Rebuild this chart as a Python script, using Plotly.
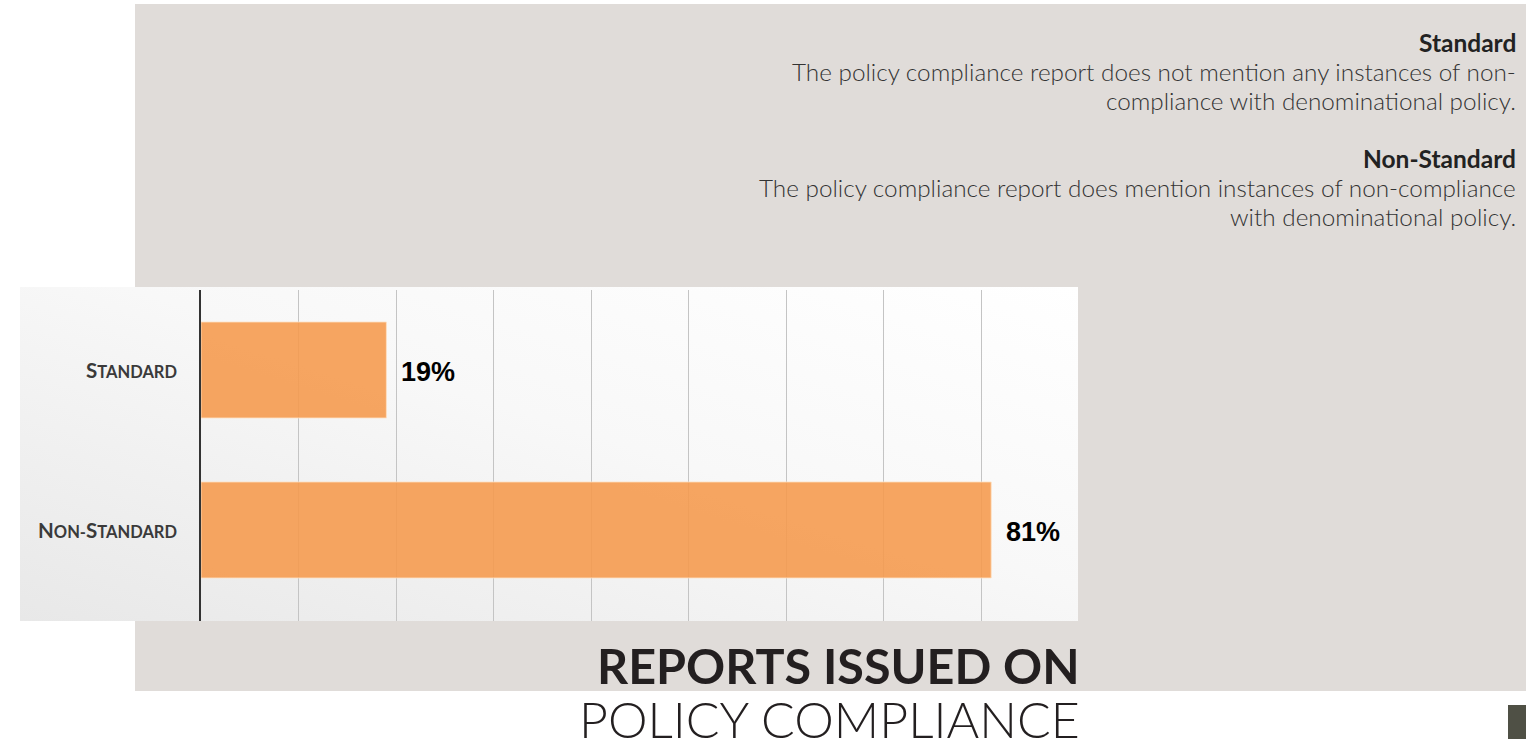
import base64
import plotly.graph_objects as go

# Share of policy compliance reports by outcome (percent)
categories = ["Standard", "Non-Standard"]
shares = [19, 81]
category_pos = [1, 0]

descriptions = {
    "Standard": ["The policy compliance report does not mention any instances of non-",
                 "compliance with denominational policy."],
    "Non-Standard": ["The policy compliance report does mention instances of non-compliance",
                     "with denominational policy."],
}
title_lines = ["REPORTS ISSUED ON", "POLICY COMPLIANCE"]
grid_values = [10, 20, 30, 40, 50, 60, 70, 80]

W, H = 1526, 739
BAR_COLOR = "rgba(245,155,80,0.9)"
PANEL_GRAY = "#e0dcd9"


def px_x(v):
    return v / W


def px_y(v):
    return 1 - v / H


def small_caps(label, big=20.5, small=16.5):
    out = []
    for ch in label:
        if ch.isupper():
            out.append(f"<span style='font-size:{big}px'>{ch}</span>")
        else:
            out.append(f"<span style='font-size:{small}px'>{ch.upper()}</span>")
    return "".join(out)


def svg_uri(svg):
    return "data:image/svg+xml;base64," + base64.b64encode(svg.encode()).decode()


panel_svg = (
    "<svg xmlns='http://www.w3.org/2000/svg' width='100' height='100' preserveAspectRatio='none'>"
    f"<rect width='100' height='100' fill='{PANEL_GRAY}'/></svg>"
)
box_svg = (
    "<svg xmlns='http://www.w3.org/2000/svg' width='1058' height='334' preserveAspectRatio='none'>"
    "<defs><linearGradient id='g' x1='1' y1='0' x2='0' y2='1'>"
    "<stop offset='0' stop-color='#ffffff'/><stop offset='0.45' stop-color='#f8f8f8'/>"
    "<stop offset='1' stop-color='#e8e8e8'/></linearGradient></defs>"
    "<rect width='1058' height='334' fill='url(#g)'/></svg>"
)

fig = go.Figure()
fig.add_trace(go.Bar(
    x=shares,
    y=category_pos,
    orientation="h",
    width=0.6,
    marker=dict(color=BAR_COLOR, line=dict(color="rgba(255,225,195,0.8)", width=1)),
    hoverinfo="skip",
    showlegend=False,
))

annotations = []
# value labels and category labels
for cat, val, pos in zip(categories, shares, category_pos):
    annotations.append(dict(
        x=val, y=pos, xref="x", yref="y", xanchor="left", yanchor="middle",
        xshift=13, yshift=-2, showarrow=False,
        text=f"<b>{val}%</b>",
        font=dict(family="Liberation Sans, Arial", size=27, color="#000000"),
    ))
    annotations.append(dict(
        x=px_x(179), y=pos, xref="paper", yref="y", xanchor="right", yanchor="middle",
        showarrow=False, text=small_caps(cat),
        font=dict(family="Lato", size=20, color="#3a3a3a", weight="bold"),
    ))

# definitions block: bold heading followed by its description lines
LINE_STEP = 29.2
for cat, top in zip(categories, [42, 158]):
    annotations.append(dict(
        x=px_x(1518), y=px_y(top), xref="paper", yref="paper",
        xanchor="right", yanchor="middle", showarrow=False,
        text=cat,
        font=dict(family="Lato", size=24.5, color="#222222", weight="bold"),
    ))
    for i, line in enumerate(descriptions[cat], start=1):
        annotations.append(dict(
            x=px_x(1518), y=px_y(top + i * LINE_STEP), xref="paper", yref="paper",
            xanchor="right", yanchor="middle", showarrow=False,
            text=line,
            font=dict(family="Lato", size=24.3, color="#333333", weight=300),
        ))

# title
annotations.append(dict(
    x=px_x(1082), y=px_y(665), xref="paper", yref="paper",
    xanchor="right", yanchor="middle", showarrow=False,
    text=title_lines[0],
    font=dict(family="Lato", size=48.5, color="#231f20", weight="bold"),
))
annotations.append(dict(
    x=px_x(1082), y=px_y(719), xref="paper", yref="paper",
    xanchor="right", yanchor="middle", showarrow=False,
    text=title_lines[1],
    font=dict(family="Lato", size=50, color="#231f20", weight=300),
))

fig.update_layout(
    width=W, height=H, autosize=False,
    margin=dict(l=0, r=0, t=0, b=0),
    paper_bgcolor="#ffffff",
    plot_bgcolor="rgba(0,0,0,0)",
    annotations=annotations,
    images=[
        dict(source=svg_uri(panel_svg), xref="paper", yref="paper",
             x=px_x(135), y=px_y(4), sizex=px_x(W - 135), sizey=(691 - 4) / H,
             xanchor="left", yanchor="top", sizing="stretch", layer="below"),
        dict(source=svg_uri(box_svg), xref="paper", yref="paper",
             x=px_x(20), y=px_y(287), sizex=px_x(1058), sizey=334 / H,
             xanchor="left", yanchor="top", sizing="stretch", layer="below"),
    ],
    shapes=[
        dict(type="rect", xref="paper", yref="paper",
             x0=px_x(1508), x1=1, y0=0, y1=px_y(705),
             fillcolor="#4f5045", line=dict(width=0)),
    ],
    xaxis=dict(
        domain=[px_x(201), px_x(1079)],
        range=[0, 90],
        tickmode="array", tickvals=grid_values,
        showticklabels=False, ticks="",
        showgrid=True, gridcolor="#c4c4c4", gridwidth=1,
        zeroline=False, showline=False, fixedrange=True,
    ),
    yaxis=dict(
        domain=[px_y(621), px_y(290)],
        range=[-0.569, 1.5],
        showticklabels=False, ticks="",
        showgrid=False, zeroline=False,
        showline=True, linecolor="#333333", linewidth=2,
        fixedrange=True,
    ),
    bargap=0.4,
)

fig.write_html("out.html", config={"displayModeBar": False})
